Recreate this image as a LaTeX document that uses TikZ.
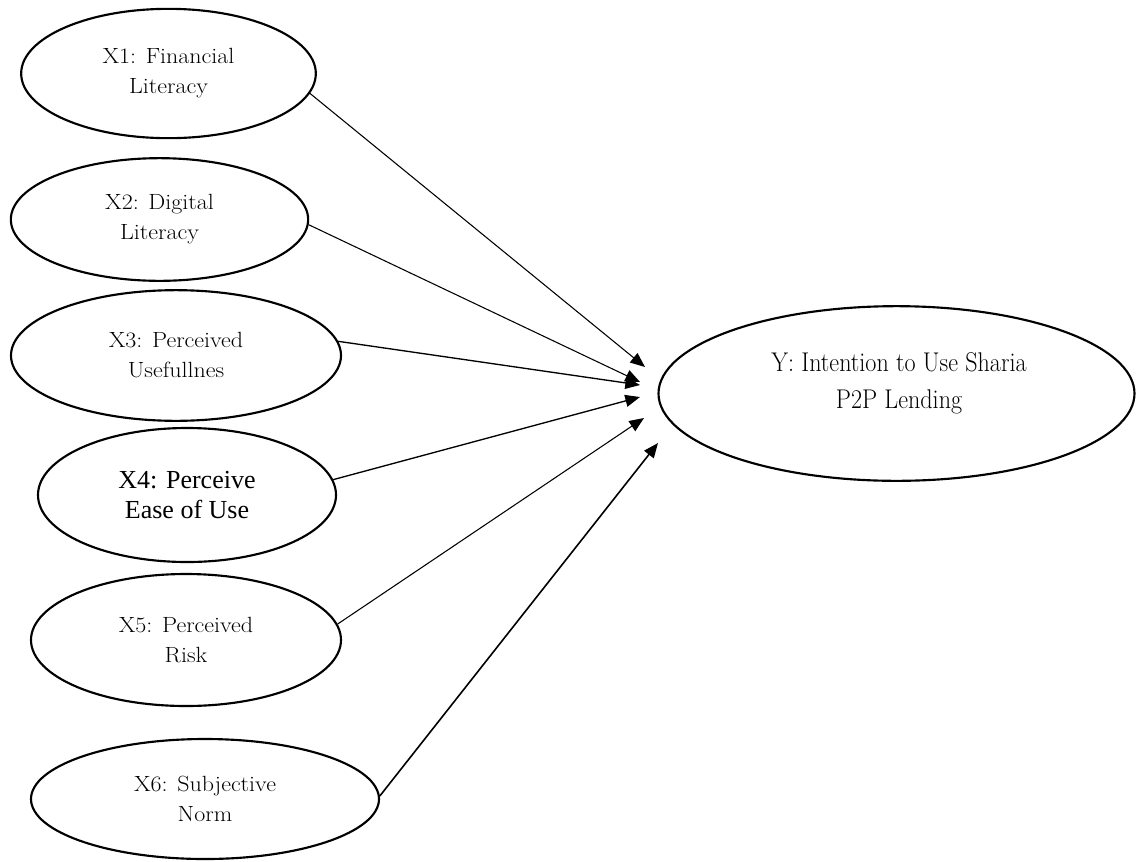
\documentclass[tikz,border=0pt]{standalone}
\usepackage{fontspec}
\newfontfamily\timesfont{Liberation Serif}
\newfontfamily\xfont[FakeStretch=1.09]{Latin Modern Roman}
\newfontfamily\yfont[FakeStretch=0.89]{Latin Modern Roman}
\usetikzlibrary{arrows.meta,shapes.geometric}
\tikzset{
  latent/.style={draw=black, line width=1.6pt, ellipse, inner sep=0pt, align=center,
    font=\xfont\fontsize{16.5pt}{22.5pt}\selectfont},
  conn/.style={draw=black, line width=0.8pt, -{Triangle[length=11pt,width=9pt]}},
}
\begin{document}
\begin{tikzpicture}[x=0.75pt,y=-0.75pt]
\useasboundingbox (0,0) rectangle (1136,861);
\node[latent, minimum width=221pt, minimum height=97pt] (x1) at (168.5,73.5) {X1: Financial\\Literacy};
\node[latent, minimum width=223pt, minimum height=92pt] (x2) at (159.5,219.5) {X2: Digital\\Literacy};
\node[latent, minimum width=247.5pt, minimum height=98pt] (x3) at (176,355.5) {X3: Perceived\\Usefullnes};
\node[latent, minimum width=223.5pt, minimum height=100.5pt, font=\timesfont\fontsize{19.5pt}{22.5pt}\selectfont] (x4) at (187,495) {X4: Perceive\\Ease of Use};
\node[latent, minimum width=232.5pt, minimum height=99pt] (x5) at (186,640) {X5: Perceived\\Risk};
\node[latent, minimum width=261pt, minimum height=90pt] (x6) at (205,799) {X6: Subjective\\Norm};
\node[latent, minimum width=357pt, minimum height=131pt] (y) at (896.5,393.5) {};
\node[align=center, inner sep=0pt, font=\yfont\fontsize{20.3pt}{27.5pt}\selectfont] (ylab) at (899,383) {Y: Intention to Use Sharia\\P2P Lending};
\coordinate (t1) at (645,367);
\coordinate (t2) at (640,382);
\coordinate (t3) at (640,385);
\coordinate (t4) at (640,397);
\coordinate (t5) at (644,418);
\coordinate (t6) at (658,443);
\draw[conn] (x1.-8) -- (t1);
\draw[conn] (x2.-2) -- (t2);
\draw[conn, line width=1pt] (x3.5) -- (t3);
\draw[conn, line width=1pt] (x4.6) -- (t4);
\draw[conn] (x5.6) -- (t5);
\draw[conn, line width=1.2pt] (x6.1) -- (t6);
\end{tikzpicture}
\end{document}
